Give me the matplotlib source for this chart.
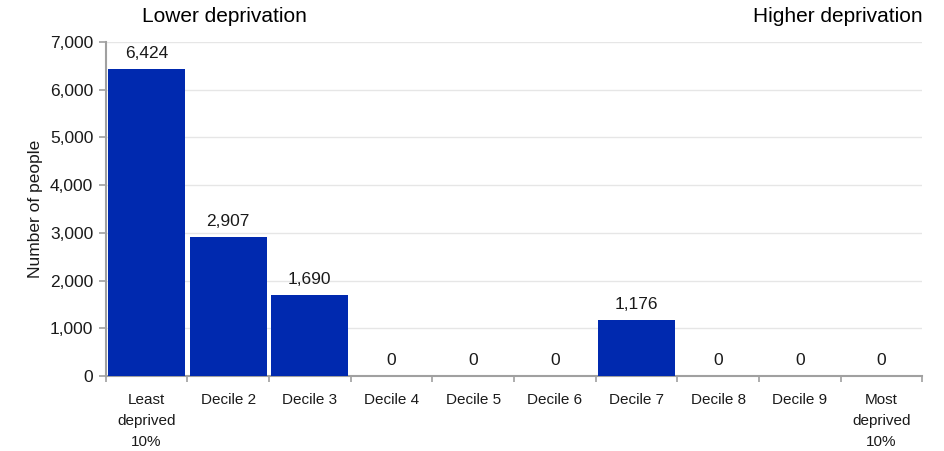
import matplotlib.pyplot as plt
from matplotlib.ticker import FuncFormatter, FixedLocator, NullFormatter

plt.rcParams['font.family'] = ['Liberation Sans', 'DejaVu Sans']

categories = ["Least\ndeprived\n10%", "Decile 2", "Decile 3", "Decile 4", "Decile 5",
              "Decile 6", "Decile 7", "Decile 8", "Decile 9", "Most\ndeprived\n10%"]
people = [6424, 2907, 1690, 0, 0, 0, 1176, 0, 0, 0]

bar_color = "#0029AF"
axis_grey = "#A0A0A0"
text_color = "#1a1a1a"

fig = plt.figure(figsize=(9.44, 4.51), dpi=100)
ax = fig.add_axes([0.112, 0.1663, 0.865, 0.7407])

x = list(range(len(categories)))
ax.bar(x, people, width=0.94, color=bar_color, zorder=3)

for xi, v in zip(x, people):
    ax.annotate("{:,}".format(v), (xi, v), xytext=(0, 8), textcoords="offset points",
                ha="center", va="baseline", fontsize=12.5, color=text_color)

ax.set_xlim(-0.5, 9.5)
ax.set_ylim(0, 7000)
ax.set_yticks(range(0, 7001, 1000))
ax.yaxis.set_major_formatter(FuncFormatter(lambda v, p: "{:,}".format(int(v))))
ax.tick_params(axis="y", labelsize=12.5, colors=axis_grey, labelcolor=text_color,
               length=5, width=1.2, pad=4)

# category labels centred, tick marks on the boundaries
ax.xaxis.set_major_locator(FixedLocator([i - 0.5 for i in range(11)]))
ax.xaxis.set_major_formatter(NullFormatter())
ax.xaxis.set_minor_locator(FixedLocator(x))
ax.set_xticklabels(categories, minor=True)
ax.tick_params(axis="x", which="major", length=4, width=1.2, colors=axis_grey)
ax.tick_params(axis="x", which="minor", length=0, pad=12, labelsize=11,
               labelcolor=text_color)
for lbl in ax.get_xticklabels(minor=True):
    lbl.set_linespacing(1.65)

ax.grid(axis="y", color="#E6E6E6", linewidth=1, zorder=0)
for side in ["top", "right"]:
    ax.spines[side].set_visible(False)
for side in ["left", "bottom"]:
    ax.spines[side].set_color(axis_grey)
    ax.spines[side].set_linewidth(1.5)

ax.set_ylabel("Number of people", fontsize=12.5, color=text_color, labelpad=5)

fig.text(0.2375, 0.964, "Lower deprivation", fontsize=15, ha="center", va="center")
fig.text(0.977, 0.964, "Higher deprivation", fontsize=15, ha="right", va="center")

fig.savefig("out.png", dpi=100)
